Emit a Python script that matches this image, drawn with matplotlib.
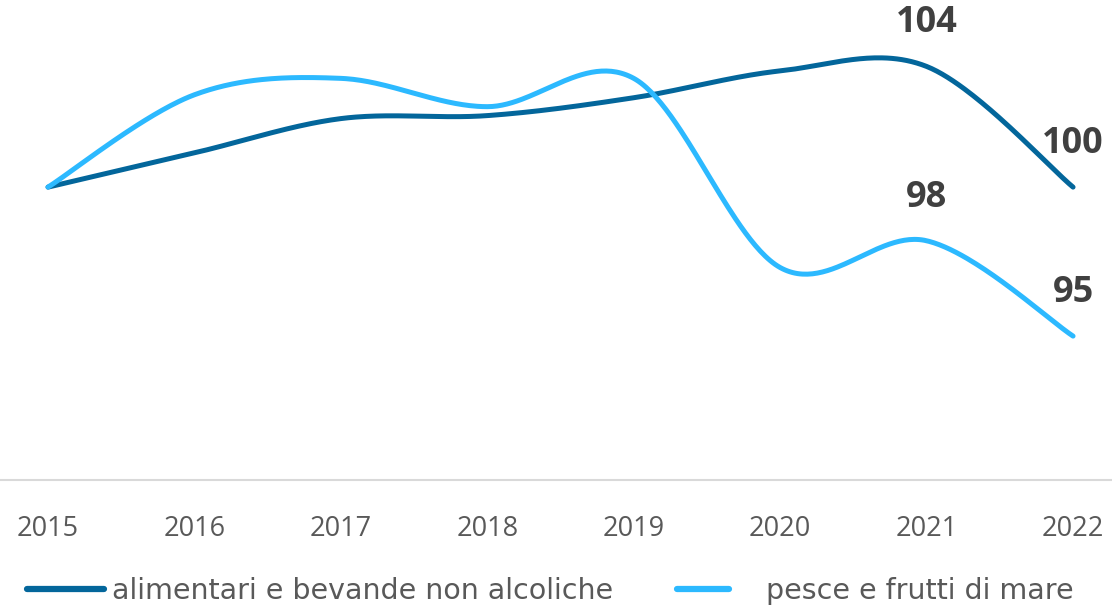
import matplotlib.pyplot as plt
import numpy as np
from matplotlib.lines import Line2D

plt.rcParams["font.family"] = ["Open Sans", "DejaVu Sans"]

years = [2015, 2016, 2017, 2018, 2019, 2020, 2021, 2022]
food = [100.0, 101.15, 102.3, 102.4, 103.0, 103.9, 104.05, 100.0]
fish = [100.0, 103.1, 103.65, 102.7, 103.65, 97.3, 98.2, 95.0]
names = ["alimentari e bevande non alcoliche", "pesce e frutti di mare"]
labelled = {"food": [(2021, 104), (2022, 100)], "fish": [(2021, 98), (2022, 95)]}

DARK = "#03669b"
LIGHT = "#2cb9ff"
TEXT = "#595959"
LABEL = "#404040"


def smooth(x, y, n=60):
    """Catmull-Rom curve through the points (like an office 'smoothed line')."""
    p = np.column_stack([x, y]).astype(float)
    ext = np.vstack([p[0], p, p[-1]])
    m = (ext[2:] - ext[:-2]) / 2
    t = np.linspace(0, 1, n)[:, None]
    h00 = 2 * t**3 - 3 * t**2 + 1
    h10 = t**3 - 2 * t**2 + t
    h01 = -2 * t**3 + 3 * t**2
    h11 = t**3 - t**2
    segs = [h00 * p[i] + h10 * m[i] + h01 * p[i + 1] + h11 * m[i + 1]
            for i in range(len(p) - 1)]
    out = np.vstack(segs)
    return out[:, 0], out[:, 1]


fig = plt.figure(figsize=(11.12, 6.08), dpi=100)
ax = fig.add_axes([0, 128 / 608, 1, 480 / 608])

for vals, col in [(food, DARK), (fish, LIGHT)]:
    sx, sy = smooth(years, vals)
    ax.plot(sx, sy, color=col, lw=3.6, solid_capstyle="round")

for key, vals in [("food", food), ("fish", fish)]:
    for yr, txt in labelled[key]:
        ax.annotate(str(txt), (yr, vals[years.index(yr)]), xytext=(0, 31),
                    textcoords="offset points", ha="center", va="center",
                    fontsize=26, fontweight="bold", color=LABEL)

ax.set_xlim(2014.672, 2022.266)
ax.set_ylim(90.17, 106.28)
for s in ["top", "left", "right"]:
    ax.spines[s].set_visible(False)
ax.spines["bottom"].set_color("#d9d9d9")
ax.spines["bottom"].set_linewidth(1.5)
ax.set_yticks([])
ax.set_xticks(years)
ax.set_xticklabels([str(y) for y in years])
ax.tick_params(axis="x", length=0, pad=25, labelsize=19.5, labelcolor=TEXT)

legfont = {"family": ["DejaVu Sans"], "size": 20.5}
h1 = Line2D([], [], color=DARK, lw=4.5, solid_capstyle="round")
h2 = Line2D([], [], color=LIGHT, lw=4.5, solid_capstyle="round")
leg1 = fig.legend([h1], [names[0]], loc="center left",
                  bbox_to_anchor=(27 / 1112, 1 - 591 / 608), frameon=False,
                  prop=legfont, labelcolor=TEXT, handlelength=2.72,
                  handletextpad=0.25, borderpad=0, borderaxespad=0)
leg2 = fig.legend([h2], [names[1]], loc="center left",
                  bbox_to_anchor=(677 / 1112, 1 - 591 / 608), frameon=False,
                  prop=legfont, labelcolor=TEXT, handlelength=1.84,
                  handletextpad=1.27, borderpad=0, borderaxespad=0)

fig.savefig("out.png", dpi=100)
